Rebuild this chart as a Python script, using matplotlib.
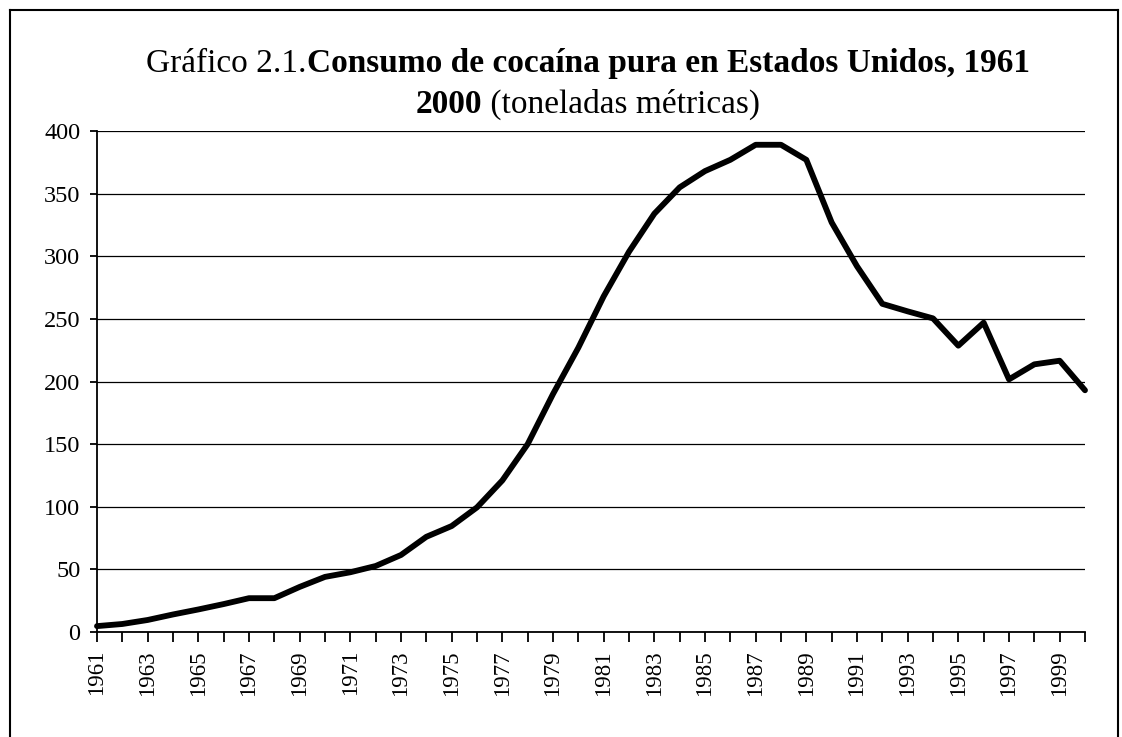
import matplotlib
matplotlib.use("Agg")
import matplotlib.pyplot as plt
from matplotlib.lines import Line2D

years = list(range(1961, 2001))
consumo = [4.7, 6.4, 9.6, 14, 18, 22.3, 27, 27, 36, 44,
           47.7, 52.7, 61.5, 76, 84.6, 99.5, 121, 150, 190, 227,
           268, 303.6, 334, 355, 368, 377, 389, 389, 377, 327,
           292, 262, 256, 250.4, 228.6, 247, 201.7, 213.7, 216.6, 193]
yticks = [0, 50, 100, 150, 200, 250, 300, 350, 400]
xlabels = [str(y) if (y - 1961) % 2 == 0 else "" for y in years]

title1_normal = "Gráfico 2.1."
title1_bold = "Consumo de cocaína pura en Estados Unidos, 1961"
title2_bold = "2000"
title2_normal = " (toneladas métricas)"

plt.rcParams['font.family'] = ['Liberation Serif', 'DejaVu Serif']

W, H = 1122, 737
fig = plt.figure(figsize=(W / 100, H / 100), dpi=100)
ax = fig.add_axes([97 / W, 1 - 632 / H, (1085 - 97) / W, (632 - 131) / H])

ax.plot(years, consumo, color='black', linewidth=4.2, solid_joinstyle='round',
        solid_capstyle='round', zorder=3, clip_on=False)
ax.set_xlim(years[0], years[-1])
ax.set_ylim(0, 400)
ax.set_yticks(yticks)
ax.set_yticklabels([str(v) for v in yticks], fontsize=17.5)
ax.set_xticks(years)
ax.set_xticklabels(xlabels, rotation=90, fontsize=16.5)
ax.yaxis.grid(True, color='black', linewidth=0.9)
ax.set_axisbelow(True)
for s in ['top', 'right']:
    ax.spines[s].set_visible(False)
for s in ['left', 'bottom']:
    ax.spines[s].set_linewidth(1.3)
    ax.spines[s].set_color('black')
ax.tick_params(axis='y', direction='out', length=5, width=1.3, pad=7)
ax.tick_params(axis='x', direction='out', length=7, width=1.3, pad=6)

# border around the figure
bx0, bx1, by0 = 10 / W, 1118 / W, 1 - 10 / H
fig.add_artist(Line2D([bx0, bx0], [-0.05, by0], transform=fig.transFigure, color='black', lw=1.5))
fig.add_artist(Line2D([bx0, bx1], [by0, by0], transform=fig.transFigure, color='black', lw=1.5))
fig.add_artist(Line2D([bx1, bx1], [-0.05, by0], transform=fig.transFigure, color='black', lw=1.5))

# title in mixed weights, centered
fs = 24
cx = 588 / W
y1 = 1 - 72 / H
y2 = 1 - 113 / H
renderer = fig.canvas.get_renderer()

def place_line(parts, y):
    texts = [fig.text(0, y, t, fontsize=fs, fontweight=w, ha='left', va='baseline')
             for t, w in parts]
    widths = [t.get_window_extent(renderer).width / W for t in texts]
    x = cx - sum(widths) / 2
    for t, wd in zip(texts, widths):
        t.set_x(x)
        x += wd

place_line([(title1_normal, 'normal'), (title1_bold, 'bold')], y1)
place_line([(title2_bold, 'bold'), (title2_normal, 'normal')], y2)

fig.savefig("out.png", dpi=100)
